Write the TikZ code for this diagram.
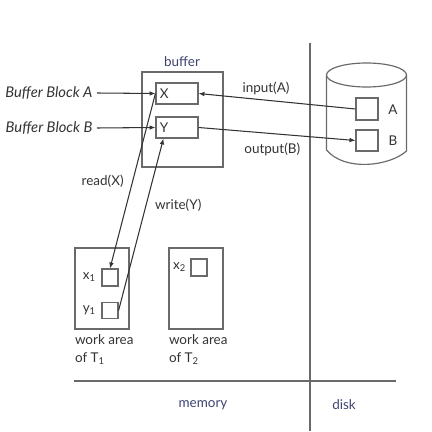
\documentclass[tikz,border=0pt]{standalone}
\usepackage{fontspec}
\setmainfont{Lato}
\usetikzlibrary{arrows.meta}
\definecolor{linegray}{HTML}{6A6A6A}
\definecolor{txtgray}{HTML}{333333}
\definecolor{slate}{HTML}{3E4470}

\begin{document}
\begin{tikzpicture}[x=0.03cm, y=-0.03cm, line width=1pt, font=\fontsize{11.5}{16}\selectfont, text=txtgray,
    box/.style 2 args={draw=linegray, inner sep=0pt, minimum width=#1*0.03cm, minimum height=#2*0.03cm},
    link/.style={draw=txtgray, line width=0.9pt, -{Latex[length=5pt,width=4pt]}},
    area/.style={slate},
    blocklbl/.style={left, font=\fontsize{12.6}{16}\selectfont\itshape}]
  \useasboundingbox (0,0) rectangle (432,431);
  % memory / disk split
  \draw[linegray] (310,43) -- (310,431);
  \draw[linegray] (74,381) -- (396,381);
  \node[area] (mem) at (203,405) {memory};
  \node[area] (dsk) at (344,405) {disk};
  % buffer
  \node[box={81}{95}] (buf) at (182.5,119.5) {};
  \node[area] (buflbl) at (182,62) {buffer};
  \node[box={42}{21}] (X) at (177,93.5) {};
  \node[right] at (X.west) {X};
  \node[box={42}{21}] (Y) at (177,127.5) {};
  \node[right] at (Y.west) {Y};
  \node[blocklbl] (bA) at (97,93) {Buffer Block A};
  \node[blocklbl] (bB) at (97,128) {Buffer Block B};
  \draw[link] (bA.east) -- (X.west);
  \draw[link] (bB.east) -- (Y.west);
  % disk
  \draw[linegray] (326.5,75) -- (326.5,150) .. controls (345,172) and (390,166) .. (406.5,151) -- (406.5,75);
  \draw[linegray, fill=white] (366.5,75) ellipse [x radius=1.2cm, y radius=0.36cm];
  \node[box={22}{22}] (dA) at (367,109) {};
  \node[box={22}{21}] (dB) at (367,140.5) {};
  \node (lA) at (393,110) {A};
  \node (lB) at (393,141) {B};
  \draw[link] (dA.west) -- (X.east) node[pos=0.57, above=1pt] {input(A)};
  \draw[link] (Y.east) -- (dB.west) node[pos=0.47, below=4pt] {output(B)};
  % work areas
  \node[box={54}{81}] (T1) at (102,288.5) {};
  \node[box={16}{17}] (x1) at (110,277.5) {};
  \node[box={16}{16}] (y1) at (110,310.5) {};
  \node[left=1pt] at (x1.west) {x\textsubscript{1}};
  \node[left=1pt] at (y1.west) {y\textsubscript{1}};
  \node[box={54}{81}] (T2) at (196,288.5) {};
  \node[box={16}{17}] (x2) at (199,267.5) {};
  \node[left=0pt] at (x2.west) {x\textsubscript{2}};
  \node[below right, align=left, inner xsep=0pt] at (T1.south west) {work area\\of T\textsubscript{1}};
  \node[below right, align=left, inner xsep=0pt] at (T2.south west) {work area\\of T\textsubscript{2}};
  % read / write
  \draw[link] (X.west) -- (x1.north) node[pos=0.5, left=4pt] {read(X)};
  \draw[link] (y1.east) -- ([xshift=0.24cm]Y.south west) node[pos=0.61, right=4pt] {write(Y)};
\end{tikzpicture}
\end{document}
